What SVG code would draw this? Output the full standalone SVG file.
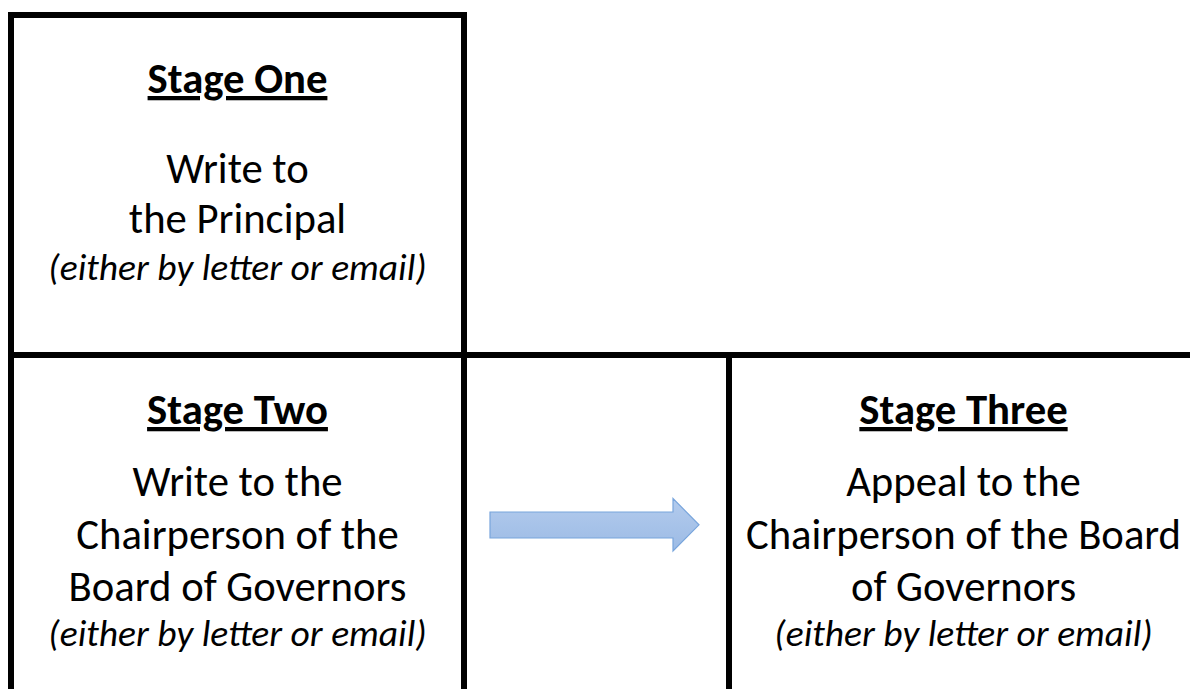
<svg xmlns="http://www.w3.org/2000/svg" width="1190" height="689" viewBox="0 0 1190 689">
<style>
.bd{stroke:#000;stroke-width:6;fill:none;stroke-linecap:square}
.t{font-family:Carlito,Lato,"Open Sans",sans-serif;fill:#000;text-anchor:middle}
.h{font-size:42.7px;font-weight:bold;text-decoration:underline}
.b{font-size:42.7px}
.i{font-size:37.5px;font-style:italic}
</style>
<defs>
<linearGradient id="ag" x1="0" y1="0" x2="0" y2="1">
<stop offset="0" stop-color="#b3cbed"/>
<stop offset="1" stop-color="#9cbbe5"/>
</linearGradient>
</defs>
<rect width="1190" height="689" fill="#fff"/>
<g id="stage-one">
<rect class="bd" x="11" y="15" width="453" height="340"/>
<text class="t h" x="237.5" y="93">Stage One</text>
<text class="t b" x="237.5" y="183">Write to</text>
<text class="t b" x="237.5" y="233">the Principal</text>
<text class="t i" x="237.5" y="280">(either by letter or email)</text>
</g>
<g id="stage-two">
<line class="bd" x1="11" y1="355" x2="11" y2="692"/>
<line class="bd" x1="464" y1="355" x2="464" y2="692"/>
<line class="bd" x1="11" y1="355" x2="464" y2="355"/>
<text class="t h" x="237.5" y="424">Stage Two</text>
<text class="t b" x="237.5" y="496">Write to the</text>
<text class="t b" x="237.5" y="548.5">Chairperson of the</text>
<text class="t b" x="237.5" y="601">Board of Governors</text>
<text class="t i" x="237.5" y="646">(either by letter or email)</text>
</g>
<g id="stage-three">
<line class="bd" x1="464" y1="355" x2="1193" y2="355"/>
<line class="bd" x1="729" y1="355" x2="729" y2="692"/>
<text class="t h" x="963.5" y="424">Stage Three</text>
<text class="t b" x="963.5" y="496">Appeal to the</text>
<text class="t b" x="963.5" y="548.5">Chairperson of the Board</text>
<text class="t b" x="963.5" y="601">of Governors</text>
<text class="t i" x="963.5" y="646">(either by letter or email)</text>
</g>
<g id="connectors">
<polygon points="490,512 673,512 673,498.5 699,524.8 673,551 673,538 490,538" fill="url(#ag)" stroke="#78a5dc" stroke-width="1.2"/>
</g>
</svg>
